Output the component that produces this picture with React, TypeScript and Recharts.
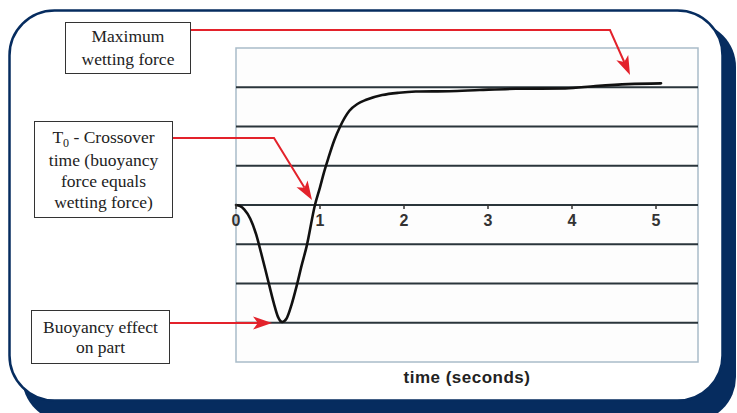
import React from 'react'
import {
  LineChart,
  Line,
  XAxis,
  YAxis,
  ReferenceLine,
  ReferenceArea,
} from 'recharts'

// time in seconds, force in µN/mm
const times = [
  0, 0.05, 0.1, 0.17, 0.24, 0.3, 0.35, 0.4, 0.45, 0.5, 0.55, 0.6, 0.66, 0.72, 0.78, 0.84, 0.94,
  1.0, 1.05, 1.1, 1.17, 1.24, 1.35, 1.45, 1.55, 1.74, 1.94, 2.14, 2.54, 2.9, 3.33, 3.92, 4.28,
  4.67, 5.06,
]
const forces = [
  0, -0.03, -0.12, -0.35, -0.75, -1.23, -1.65, -2.08, -2.5, -2.85, -2.98, -2.9, -2.55, -2.08,
  -1.55, -1.06, 0, 0.45, 0.85, 1.2, 1.65, 2.0, 2.4, 2.58, 2.68, 2.8, 2.86, 2.89, 2.9, 2.93, 2.96,
  2.97, 3.03, 3.08, 3.1,
]
const xTicks = [0, 1, 2, 3, 4, 5]
const yGrid = [-3, -2, -1, 0, 1, 2, 3]

const data = times.map((t, i) => ({ t, f: forces[i] }))

const W = 737
const H = 413
const NAVY = '#062c5f'
const RED = '#e3222b'
const PLOT_TOP = 48
const PLOT_H = 314
const ZERO_Y = PLOT_TOP + PLOT_H / 2

function TimeTick({ x, payload }: any) {
  return (
    <g>
      <line x1={x} x2={x} y1={ZERO_Y - 1} y2={ZERO_Y + 4} stroke="#333" strokeWidth={1.5} />
      <text
        x={x}
        y={ZERO_Y + 21}
        textAnchor="middle"
        fontFamily="Liberation Sans, Arial, sans-serif"
        fontWeight="bold"
        fontSize={16}
        fill="#333"
      >
        {payload.value}
      </text>
    </g>
  )
}

const boxStyle: React.CSSProperties = {
  position: 'absolute',
  border: '1.3px solid #333',
  background: '#fff',
  fontFamily: '"Liberation Serif", "Times New Roman", serif',
  fontSize: 17.5,
  lineHeight: '21px',
  color: '#222',
  textAlign: 'center',
  boxSizing: 'border-box',
  display: 'flex',
  flexDirection: 'column',
  justifyContent: 'center',
}

function Arrow({ pts }: { pts: number[][] }) {
  const n = pts.length
  const [x1, y1] = pts[n - 2]
  const [x2, y2] = pts[n - 1]
  const a = Math.atan2(y2 - y1, x2 - x1)
  const len = 19
  const half = 6.5
  const bx = x2 - len * Math.cos(a)
  const by = y2 - len * Math.sin(a)
  const px = -Math.sin(a) * half
  const py = Math.cos(a) * half
  const notchX = x2 - len * 0.75 * Math.cos(a)
  const notchY = y2 - len * 0.75 * Math.sin(a)
  const linePts = pts.slice(0, n - 1).map((p) => p.join(',')).join(' ') + ` ${notchX},${notchY}`
  return (
    <g>
      <polyline points={linePts} fill="none" stroke={RED} strokeWidth={2} />
      <polygon
        points={`${x2},${y2} ${bx + px},${by + py} ${notchX},${notchY} ${bx - px},${by - py}`}
        fill={RED}
      />
    </g>
  )
}

export default function App() {
  return (
    <div style={{ position: 'absolute', left: 0, top: 0, width: W, height: H, overflow: 'hidden', background: '#fff' }}>
      {/* frame with shadow */}
      <svg width={W} height={H} style={{ position: 'absolute', left: 0, top: 0 }}>
        <rect x={22} y={22} width={714} height={400} rx={45} fill={NAVY} />
        <rect x={9.5} y={10.5} width={713} height={390} rx={45} fill="#fff" stroke={NAVY} strokeWidth={2.5} />
      </svg>

      <div style={{ position: 'absolute', left: 0, top: 0 }}>
        <LineChart width={W} height={H} data={data} margin={{ top: PLOT_TOP, right: 39, left: 236, bottom: 0 }}>
          <ReferenceArea x1={0} x2={5.5} y1={-4} y2={4} fill="#fdfdfd" fillOpacity={1} stroke="#a9bcc9" strokeWidth={1.5} />
          {yGrid.map((v) => (
            <ReferenceLine key={v} y={v} stroke="#2a353b" strokeWidth={1.8} />
          ))}
          <XAxis
            dataKey="t"
            type="number"
            domain={[0, 5.5]}
            ticks={xTicks}
            height={51}
            axisLine={false}
            tickLine={false}
            tick={<TimeTick />}
            label={{
              content: ({ viewBox }: any) => (
                <text
                  x={viewBox.x + viewBox.width / 2}
                  y={viewBox.y + 21}
                  textAnchor="middle"
                  fontFamily="Liberation Sans, Arial, sans-serif"
                  fontWeight="bold"
                  fontSize={17}
                  letterSpacing={0.5}
                  fill="#222"
                >
                  time (seconds)
                </text>
              ),
            }}
          />
          <YAxis
            type="number"
            domain={[-4, 4]}
            ticks={yGrid}
            width={0}
            axisLine={false}
            tickLine={false}
            tick={false}
            label={{
              content: ({ viewBox }: any) => {
                const cx = viewBox.x - 21
                const cy = viewBox.y + viewBox.height / 2
                return (
                  <text
                    x={cx}
                    y={cy}
                    textAnchor="middle"
                    dominantBaseline="central"
                    transform={`rotate(-90 ${cx} ${cy})`}
                    fontFamily="Liberation Sans, Arial, sans-serif"
                    fontWeight="bold"
                    fontSize={16}
                    fill="#222"
                  >
                    force (µN/mm)
                  </text>
                )
              },
            }}
          />
          <Line
            dataKey="f"
            type="monotone"
            stroke="#111"
            strokeWidth={2.6}
            strokeLinecap="round"
            dot={false}
            isAnimationActive={false}
          />
        </LineChart>
      </div>

      {/* callouts */}
      <svg width={W} height={H} style={{ position: 'absolute', left: 0, top: 0, pointerEvents: 'none' }}>
        <Arrow pts={[[190, 30], [610, 30], [630, 75]]} />
        <Arrow pts={[[172, 138], [274, 138], [312, 200]]} />
        <Arrow pts={[[169, 323], [272, 323]]} />
      </svg>

      <div style={{ ...boxStyle, left: 65, top: 22, width: 126, height: 52, lineHeight: '23px' }}>
        <div>Maximum</div>
        <div>wetting force</div>
      </div>
      <div style={{ ...boxStyle, left: 34, top: 121, width: 139, height: 97 }}>
        <div>
          T<span style={{ fontSize: 12, position: 'relative', top: 4 }}>0</span> - Crossover
        </div>
        <div>time (buoyancy</div>
        <div>force equals</div>
        <div>wetting force)</div>
      </div>
      <div style={{ ...boxStyle, left: 31, top: 310, width: 139, height: 54, lineHeight: '20px' }}>
        <div>Buoyancy effect</div>
        <div>on part</div>
      </div>
    </div>
  )
}
